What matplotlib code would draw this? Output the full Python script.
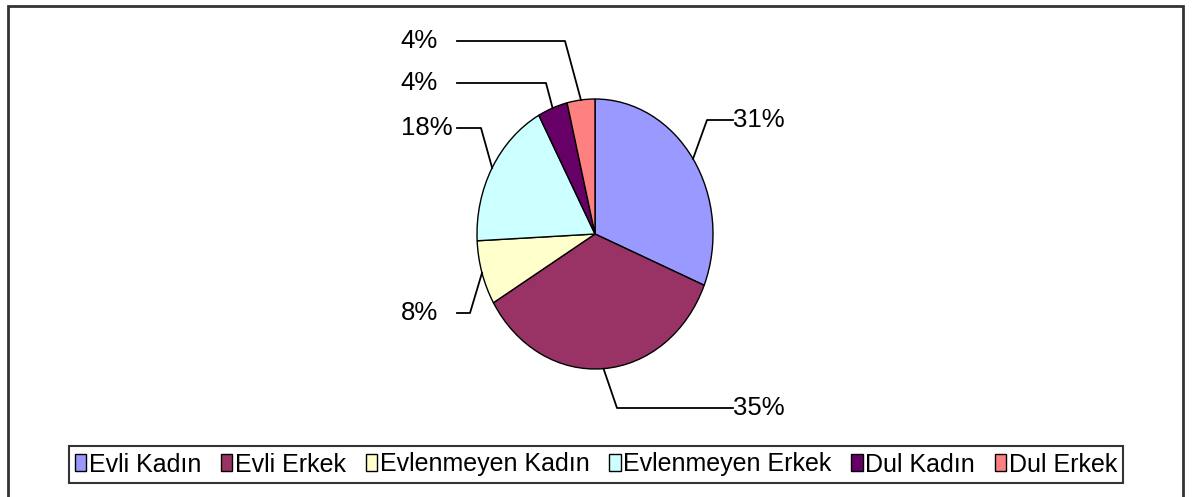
import numpy as np
import matplotlib.pyplot as plt
from matplotlib.patches import Patch, Rectangle

categories = ["Evli Kadın", "Evli Erkek", "Evlenmeyen Kadın", "Evlenmeyen Erkek", "Dul Kadın", "Dul Erkek"]
shares = [31.2, 35.3, 7.7, 17.9, 4.1, 3.8]
pct_labels = ["31%", "35%", "8%", "18%", "4%", "4%"]
colors = ["#9999FF", "#993366", "#FFFFCC", "#CCFFFF", "#660066", "#FF8080"]

plt.rcParams["font.family"] = ["Liberation Sans", "DejaVu Sans"]

W, H = 1193, 497
fig = plt.figure(figsize=(W / 100, H / 100), dpi=100)

# pie area in pixels (image is stretched vertically, so pie is an ellipse)
cx, cy, rx, ry = 595, 234, 118, 135
ax = fig.add_axes([(cx - rx) / W, 1 - (cy + ry) / H, 2 * rx / W, 2 * ry / H])
wedges, _ = ax.pie(shares, colors=colors, startangle=90, counterclock=False,
                   wedgeprops=dict(edgecolor="black", linewidth=1.0))
ax.set_aspect("auto")
ax.set_xlim(-1, 1)
ax.set_ylim(-1, 1)

def px(x, y):
    return (x - cx) / rx, (cy - y) / ry

# elbow, end of leader line, text gap (pixels)
leaders = [((707, 120), (733, 120), 0),
           ((617, 408), (733, 408), 0),
           ((470, 313), (457, 313), -19),
           ((481, 128), (457, 128), -4),
           ((546, 83), (457, 83), -19),
           ((565, 41), (457, 41), -19)]

for w, lab, (elbow, end, gap) in zip(wedges, pct_labels, leaders):
    ang = np.deg2rad((w.theta1 + w.theta2) / 2)
    sx, sy = np.cos(ang), np.sin(ang)
    ex, ey = px(*elbow)
    tx, ty = px(*end)
    ax.plot([sx, ex, tx], [sy, ey, ty], color="black", lw=1.3, clip_on=False)
    ha = "left" if gap == 0 else "right"
    ax.text(tx + gap / rx, ty, lab, ha=ha, va="center", fontsize=18.5, clip_on=False)

# legend
handles = [Patch(facecolor=c, edgecolor="black", linewidth=1.0) for c in colors]
leg = fig.legend(handles, categories, ncol=6, loc="center",
                 bbox_to_anchor=((68 + 1124) / 2 / W, 1 - (447 + 482) / 2 / H),
                 fontsize=18, frameon=True, fancybox=False, edgecolor="black",
                 handlelength=0.45, handleheight=0.65, handletextpad=0.1,
                 columnspacing=0.8, borderpad=0.25, borderaxespad=0)
leg.get_frame().set_linewidth(1.5)

# outer chart border
fig.patches.append(Rectangle((8 / W, -0.05), (1183 - 8) / W, 1.05 - 6 / H,
                             transform=fig.transFigure, fill=False,
                             edgecolor="#333333", linewidth=2))

fig.savefig("out.png", dpi=100)
